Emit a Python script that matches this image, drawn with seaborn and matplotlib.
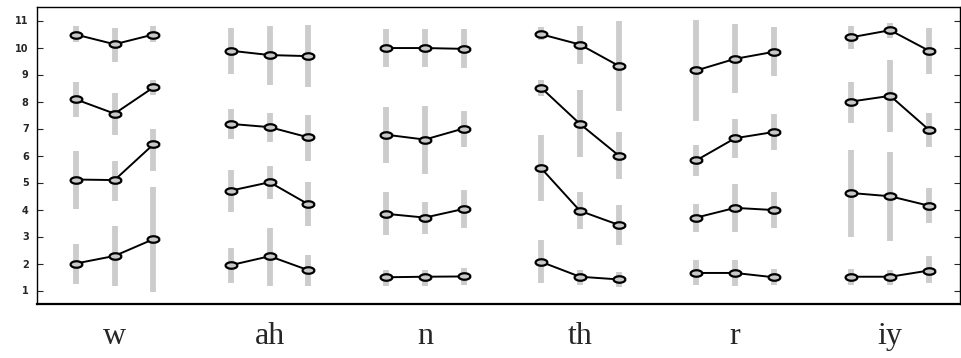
import numpy as np
import pandas as pd
import seaborn as sns
import matplotlib.pyplot as plt
from matplotlib.path import Path

groups = ['w', 'ah', 'n', 'th', 'r', 'iy']

# 4 levels (top to bottom), 3 points per group: mean, low, high of the gray range
top_mean = [[10.48, 10.12, 10.48], [9.88, 9.72, 9.68], [9.98, 9.98, 9.95],
            [10.49, 10.11, 9.32], [9.15, 9.58, 9.84], [10.38, 10.64, 9.88]]
top_lo = [[10.22, 9.48, 10.19], [9.03, 8.62, 8.53], [9.27, 9.27, 9.23],
          [10.26, 9.39, 7.66], [7.26, 8.31, 8.93], [9.95, 10.37, 9.02]]
top_hi = [[10.78, 10.74, 10.78], [10.72, 10.80, 10.84], [10.68, 10.68, 10.68],
          [10.75, 10.80, 10.98], [11.02, 10.88, 10.75], [10.80, 10.90, 10.73]]

upper_mean = [[8.08, 7.55, 8.52], [7.17, 7.05, 6.67], [6.77, 6.59, 7.00],
              [8.51, 7.17, 6.00], [5.82, 6.64, 6.87], [8.00, 8.21, 6.95]]
upper_lo = [[7.42, 6.75, 8.23], [6.61, 6.49, 5.81], [5.72, 5.32, 6.31],
            [8.19, 5.95, 5.12], [5.25, 5.91, 6.22], [7.20, 6.87, 6.31]]
upper_hi = [[8.74, 8.31, 8.80], [7.73, 7.57, 7.49], [7.79, 7.84, 7.66],
            [8.78, 8.41, 6.88], [6.40, 7.36, 7.55], [8.74, 9.52, 7.57]]

lower_mean = [[5.11, 5.09, 6.41], [4.70, 5.01, 4.19], [3.84, 3.70, 4.02],
              [5.53, 3.95, 3.43], [3.70, 4.06, 3.98], [4.61, 4.49, 4.14]]
lower_lo = [[4.02, 4.33, 5.44], [3.91, 4.40, 3.38], [3.05, 3.10, 3.31],
            [4.30, 3.28, 2.68], [3.17, 3.17, 3.31], [2.99, 2.82, 3.50]]
lower_hi = [[6.15, 5.81, 7.00], [5.48, 5.60, 5.01], [4.64, 4.28, 4.72],
            [6.77, 4.64, 4.16], [4.22, 4.96, 4.64], [6.22, 6.13, 4.80]]

bottom_mean = [[2.00, 2.28, 2.90], [1.94, 2.27, 1.75], [1.49, 1.51, 1.52],
               [2.06, 1.51, 1.41], [1.65, 1.65, 1.49], [1.51, 1.51, 1.74]]
bottom_lo = [[1.25, 1.18, 0.95], [1.26, 1.18, 1.18], [1.18, 1.18, 1.22],
             [1.26, 1.22, 1.13], [1.20, 1.16, 1.22], [1.22, 1.22, 1.26]]
bottom_hi = [[2.74, 3.38, 4.83], [2.58, 3.31, 2.31], [1.75, 1.75, 1.83],
             [2.86, 1.75, 1.68], [2.12, 2.12, 1.78], [1.78, 1.75, 2.27]]

levels = [(top_mean, top_lo, top_hi), (upper_mean, upper_lo, upper_hi),
          (lower_mean, lower_lo, lower_hi), (bottom_mean, bottom_lo, bottom_hi)]

rows = []
for li, (m, lo, hi) in enumerate(levels):
    for g in range(len(groups)):
        for j in range(3):
            rows.append({'x': 4 * g + j - 1, 'y': m[g][j], 'lo': lo[g][j], 'hi': hi[g][j],
                         'line': f'{li}-{g}'})
df = pd.DataFrame(rows)

sns.set_style('white')
fig = plt.figure(figsize=(9.62, 3.58), dpi=100)
ax = fig.add_axes([37 / 962, 1 - 304 / 358, 923 / 962, 297 / 358])

# gray range bars
ax.vlines(df['x'], df['lo'], df['hi'], color='#cccccc', linewidth=4.2, zorder=1)

# flat elliptical open marker
t = np.linspace(0, 2 * np.pi, 40)
ellipse = Path(np.column_stack([np.cos(t), 0.55 * np.sin(t)]))

sns.lineplot(data=df, x='x', y='y', units='line', estimator=None, color='black',
             linewidth=1.4, marker=ellipse, markersize=8.5, markerfacecolor='#c8c8c8',
             markeredgecolor='black', markeredgewidth=1.6, legend=False, ax=ax, zorder=3)

ax.set_xlim(-2, 21.8)
ax.set_ylim(0.5, 11.5)
ax.set_yticks(range(1, 12))
ax.set_yticklabels([str(v) for v in range(1, 12)], fontsize=7, fontweight='bold')
ax.set_xticks([4 * g for g in range(len(groups))])
ax.set_xticklabels(groups, fontsize=23, family='Liberation Serif')
ax.tick_params(axis='x', length=0, pad=13)
ax.tick_params(axis='y', direction='in', length=4, width=0.8, left=True, right=True, pad=6)
ax.set_xlabel('')
ax.set_ylabel('')
for s in ax.spines.values():
    s.set_visible(True)
    s.set_color('black')
    s.set_linewidth(1.0)
ax.spines['bottom'].set_linewidth(1.6)

fig.savefig('out.png', dpi=100)
